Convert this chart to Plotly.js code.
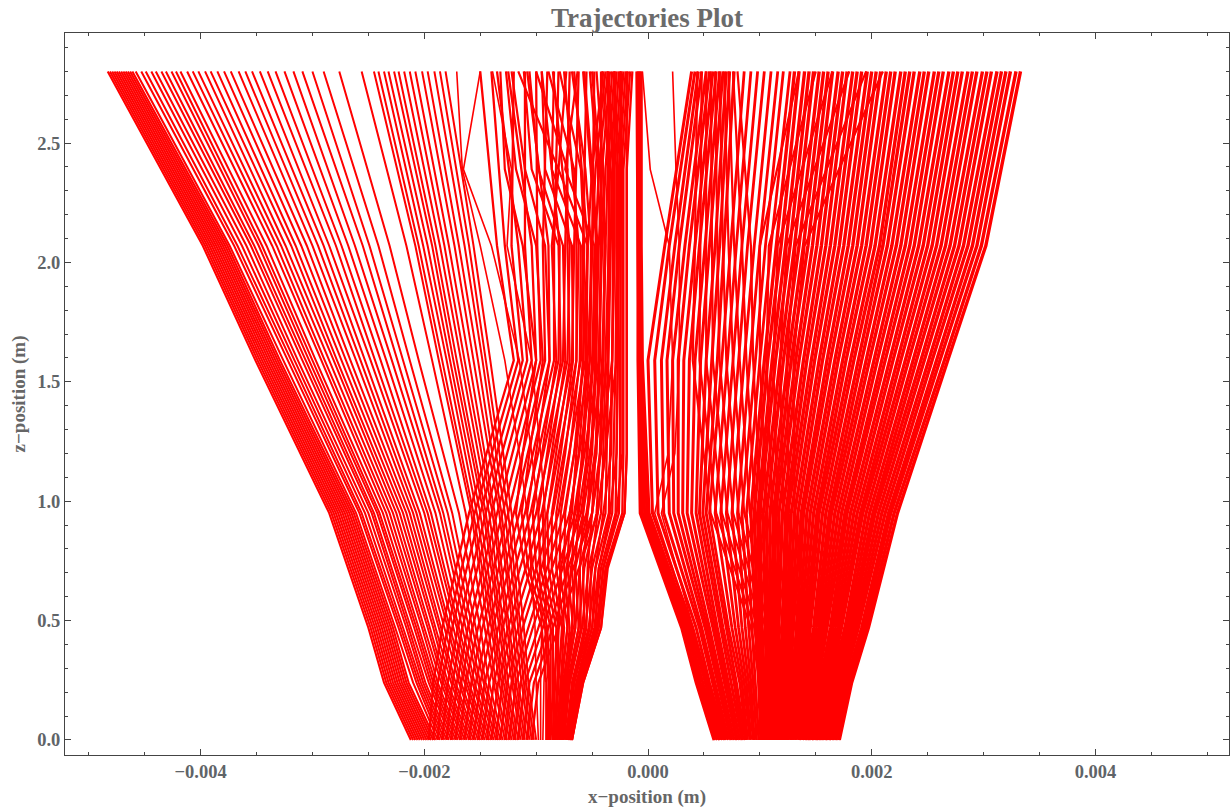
<!DOCTYPE html>
<html><head><meta charset="utf-8">
<script src="https://cdn.plot.ly/plotly-3.0.1.min.js"></script>
<style>html,body{margin:0;padding:0;background:#fff}#chart{width:1230px;height:810px}</style>
</head><body><div id="chart"></div>
<script>
// x values are stored in units of 10 micrometres (1e-5 m); z in metres
const X_UNIT = 1e-5;
const zFine = [0, 0.24, 0.47, 0.72, 0.95, 1.2, 1.59, 2.07, 2.39, 2.8];
const zCoarse = [0, 0.24, 0.47, 0.95, 1.59, 2.07, 2.8];

// left bundle, dense band along the outer edge (one array per trajectory, at zCoarse)
const leftEdgeLines = [
  [-212,-236,-250,-285,-351,-398,-483],
  [-210,-234,-248,-283,-349,-396,-481],
  [-208,-232,-246,-281,-347,-394,-479],
  [-206,-230,-244,-279,-345,-392,-477],
  [-204,-228,-242,-277,-343,-390,-475],
  [-202,-226,-240,-275,-341,-388,-473],
  [-200,-224,-238,-273,-339,-386,-471],
  [-198,-222,-236,-271,-337,-384,-469],
  [-196,-220,-234,-269,-335,-382,-467],
  [-194,-218,-232,-267,-333,-380,-465],
  [-192,-216,-230,-265,-331,-378,-463],
  [-190,-214,-228,-263,-329,-376,-461]
];
// left bundle, fanning trajectories (at zCoarse)
const leftFanLines = [
  [-188,-210,-226,-261,-326,-374,-458],
  [-186,-207,-223,-258,-322,-370,-453],
  [-184,-205,-221,-256,-319,-367,-449],
  [-182,-203,-219,-253,-316,-363,-444],
  [-180,-201,-216,-250,-313,-359,-440],
  [-178,-199,-214,-247,-309,-355,-435],
  [-176,-196,-212,-245,-306,-352,-431],
  [-174,-194,-209,-242,-303,-348,-426],
  [-172,-192,-207,-240,-300,-345,-422],
  [-170,-190,-205,-237,-297,-341,-418],
  [-168,-188,-202,-234,-292,-336,-412],
  [-166,-185,-200,-231,-289,-332,-407],
  [-164,-183,-197,-228,-285,-328,-402],
  [-162,-181,-195,-225,-281,-324,-396],
  [-160,-179,-192,-222,-278,-319,-391],
  [-158,-176,-190,-219,-274,-315,-385],
  [-156,-174,-187,-216,-270,-310,-379],
  [-154,-172,-185,-213,-266,-305,-373],
  [-152,-169,-182,-210,-261,-300,-366],
  [-150,-167,-179,-207,-257,-295,-360],
  [-148,-164,-177,-204,-253,-290,-354],
  [-146,-162,-174,-200,-248,-285,-347],
  [-144,-160,-171,-197,-244,-279,-340],
  [-142,-157,-169,-194,-239,-274,-333],
  [-140,-155,-166,-190,-234,-268,-325],
  [-138,-152,-163,-186,-229,-262,-317],
  [-136,-150,-160,-183,-224,-255,-309],
  [-134,-147,-157,-179,-219,-249,-300]
];
// left bundle, middle trajectories (at zCoarse)
const leftMidLines = [
  [-132,-145,-154,-175,-213,-241,-290],
  [-130,-142,-150,-169,-205,-231,-276],
  [-128,-138,-146,-163,-193,-216,-256],
  [-126,-136,-143,-158,-187,-208,-245],
  [-124,-133,-140,-156,-184,-205,-241],
  [-122,-131,-138,-153,-180,-201,-236],
  [-120,-129,-136,-150,-177,-197,-232],
  [-118,-127,-133,-147,-174,-193,-227],
  [-116,-125,-131,-145,-171,-190,-223],
  [-114,-122,-129,-142,-167,-186,-218],
  [-112,-120,-126,-139,-164,-182,-213],
  [-110,-118,-124,-137,-160,-178,-208],
  [-108,-116,-121,-133,-156,-173,-202],
  [-106,-113,-119,-131,-152,-169,-197],
  [-104,-111,-116,-128,-148,-164,-191],
  [-102,-109,-114,-125,-145,-160,-186],
  [-100,-107,-111,-122,-141,-156,-181]
];
// left bundle, trajectories drifting inwards across the fan (per z level of zCoarse)
const leftCrossLevels = [
  [-196,-192,-188,-184,-180,-176,-172,-168,-164,-160,-156,-152,-148,-144,-140,-136,-132,-128,-124,-120,-116,-112,-108,-104],
  [-192,-188,-184,-179,-175,-171,-167,-163,-158,-154,-150,-146,-142,-138,-134,-130,-126,-122,-118,-114,-110,-106,-102,-98],
  [-184,-179,-175,-170,-166,-161,-157,-152,-148,-143,-139,-134,-130,-125,-121,-116,-112,-107,-103,-98,-94,-89,-85,-80],
  [-160,-155,-150,-145,-140,-135,-130,-125,-120,-115,-110,-105,-100,-95,-90,-85,-80,-75,-70,-65,-60,-55,-50,-45],
  [-120,-116,-112,-108,-104,-100,-96,-92,-88,-84,-80,-76,-72,-68,-64,-60,-56,-52,-48,-44,-40,-36,-32,-28],
  [-135,-128,-122,-116,-110,-104,-99,-94,-89,-84,-79,-74,-70,-66,-62,-58,-54,-50,-46,-42,-38,-34,-30,-26],
  [-150,-140,-120,-135,-110,-125,-100,-90,-108,-80,-95,-70,-85,-62,-75,-55,-66,-48,-58,-42,-50,-36,-30,-24]
];
// left bundle, kinked trajectories (at zFine)
const leftKinkLines = [
  [-98,-100,-101,-105,-108,-115,-128,-150,-166,-171],
  [-96,-96,-95,-97,-98,-104,-115,-140,-165,-150],
  [-94,-93,-91,-92,-92,-96,-104,-126,-122,-139]
];
// left bundle, inner trajectories (one array per z level of zFine)
const leftInnerLevels = [
  [-91,-90,-89,-88,-87,-85,-84,-83,-82,-81,-80,-79,-78,-77,-76,-74,-73,-72,-71,-70,-69,-68],
  [-91,-89,-88,-87,-85,-83,-81,-80,-78,-77,-75,-74,-73,-71,-70,-67,-66,-64,-63,-61,-60,-58],
  [-95,-92,-90,-87,-85,-82,-80,-77,-75,-72,-70,-67,-65,-62,-60,-57,-55,-52,-50,-47,-45,-42],
  [-110,-107,-103,-100,-96,-93,-89,-86,-82,-79,-75,-72,-68,-65,-61,-58,-54,-51,-47,-44,-40,-37],
  [-118,-113,-108,-103,-98,-94,-90,-86,-82,-78,-74,-70,-66,-62,-58,-54,-50,-45,-40,-34,-28,-21],
  [-112,-106,-100,-95,-90,-86,-82,-78,-74,-70,-66,-62,-58,-54,-50,-46,-42,-38,-33,-28,-23,-19],
  [-100,-94,-88,-82,-78,-74,-70,-67,-64,-61,-58,-55,-52,-49,-46,-43,-40,-36,-32,-27,-23,-19],
  [-112,-100,-92,-86,-80,-76,-72,-68,-64,-60,-57,-54,-51,-48,-45,-42,-39,-35,-31,-27,-23,-19],
  [-128,-118,-110,-80,-104,-98,-72,-92,-66,-86,-60,-80,-56,-74,-50,-45,-40,-35,-31,-27,-23,-19],
  [-132,-127,-122,-116,-111,-106,-100,-95,-89,-84,-79,-73,-68,-63,-57,-52,-46,-41,-36,-30,-25,-19]
];
// central dense band (per z level of zFine)
const centerBandLevels = [
  [-85,-83,-81,-79,-77,-76,-75,-73,-72,-71,-70,-69,-68,-68],
  [-84,-81,-78,-76,-74,-72,-70,-68,-66,-64,-62,-61,-59,-58],
  [-80,-76,-72,-68,-65,-62,-59,-56,-53,-50,-48,-46,-44,-42],
  [-78,-73,-69,-65,-61,-57,-53,-50,-47,-44,-42,-40,-38,-36],
  [-68,-63,-58,-54,-50,-46,-42,-38,-35,-32,-29,-26,-23,-21],
  [-64,-59,-55,-51,-47,-43,-40,-37,-34,-31,-28,-25,-22,-19],
  [-58,-54,-50,-47,-44,-41,-38,-35,-32,-29,-27,-25,-22,-19],
  [-54,-50,-47,-44,-41,-38,-35,-33,-30,-28,-26,-24,-22,-19],
  [-50,-47,-44,-41,-38,-36,-34,-32,-30,-28,-26,-24,-22,-19],
  [-40,-38,-36,-34,-32,-30,-28,-26,-24,-22,-20,-18,-16,-14]
];
// right bundle, inner trajectories (per z level of zCoarse)
const rightInnerLevels = [
  [59,60,62,64,65,67,69,70,72,74,75,77,79,80,82,84,85,87],
  [43,45,47,49,51,53,55,58,60,62,64,66,68,70,72,74,77,79],
  [30,32,34,36,38,40,43,46,48,51,53,55,58,60,62,65,67,70],
  [-7,-5,-3,-1,1,4,9,14,19,23,27,31,35,39,43,46,49,52],
  [-9,-8,-7,-6,-5,0,6,12,17,22,27,32,37,42,47,52,57,62],
  [-9,-9,-8,-7,-6,15,19,24,28,33,37,42,46,51,55,60,64,68],
  [-10,-9,-8,-7,-6,39,42,45,48,52,55,58,61,64,67,70,73,77]
];
// right bundle, trajectories drifting inwards (per z level of zCoarse)
const rightCrossLevels = [
  [104,108,112,116,120,124,128,132,136,140,144,148,152,156,160,164],
  [100,103,107,111,114,118,122,125,129,133,136,140,144,147,151,155],
  [92,95,98,102,105,108,112,115,118,122,125,128,132,135,138,142],
  [56,61,66,71,76,81,86,91,96,101,106,111,116,121,126,131],
  [40,46,52,58,64,70,76,82,88,94,100,106,112,118,124,130],
  [42,47,52,57,62,67,72,77,84,92,100,108,116,124,132,140],
  [44,48,52,56,60,64,68,72,76,80,135,150,165,180,195,210]
];
// two isolated trajectories inside the central gap (at zFine)
const rightGapLines = [
  [66,52,38,22,6,18,22,19,2,-5],
  [68,54,40,26,12,24,28,28,25,22]
];
// right bundle, middle trajectories (per z level of zCoarse)
const rightMidLevels = [
  [88,89,91,92,94,95,97,99],
  [82,84,86,88,90,92,94,96],
  [72,75,78,81,84,87,90,93],
  [55,60,65,70,75,80,84,88],
  [66,71,76,81,86,91,96,100],
  [74,79,84,89,95,100,105,110],
  [86,92,98,104,110,116,121,127]
];
// right bundle, outer trajectories (per z level of zCoarse)
const rightOuterLevels = [
  [101,103,104,106,107,108,110,111,113,114,116,117,119,120,122,123,125,126,128,129,131,132,134,135,137,138,140,141,143,144,146,147,149,150,152,153,155,156,158,159,161,162,164,165,167,168,170,171],
  [99,101,103,104,106,108,110,111,113,115,117,118,120,122,124,125,127,129,131,133,134,136,138,140,141,143,145,147,148,150,152,154,156,157,159,161,163,164,166,168,170,171,173,175,177,178,180,182],
  [96,98,100,102,105,107,109,111,113,115,117,120,122,124,126,128,130,133,135,137,139,141,143,145,148,150,152,154,156,158,160,163,165,167,169,171,173,176,178,180,182,184,186,188,191,193,195,197],
  [92,95,98,100,103,106,109,112,114,117,120,123,125,128,131,134,137,139,142,145,148,151,153,156,159,162,164,167,170,173,176,178,181,184,187,190,192,195,198,201,203,206,209,212,215,217,220,223],
  [104,107,111,114,118,121,125,128,132,135,139,142,146,149,153,156,160,163,167,170,174,177,181,184,188,191,195,198,202,205,209,212,216,219,223,226,230,233,237,240,244,247,251,254,258,261,265,268],
  [115,119,123,127,131,135,139,143,147,151,155,159,163,167,171,175,179,183,187,191,195,199,203,207,210,214,218,222,226,230,234,238,242,246,250,254,258,262,266,270,274,278,282,286,290,294,298,302],
  [131,135,140,144,148,153,157,161,165,170,174,178,183,187,191,196,200,204,208,213,217,221,226,230,234,238,243,247,251,256,260,264,269,273,277,281,286,290,294,299,303,307,312,316,320,324,329,333]
];

function transpose(levels) { return levels[0].map((_, i) => levels.map(l => l[i])); }

const traces = [];
function addLines(zLevels, lines, width) {
  lines.forEach(xs => traces.push({
    type: 'scatter', mode: 'lines',
    x: xs.map(v => v * X_UNIT), y: zLevels,
    line: {color: '#ff0000', width: width},
    hoverinfo: 'skip', showlegend: false
  }));
}
addLines(zCoarse, leftEdgeLines, 2.1);
addLines(zCoarse, leftFanLines, 2);
addLines(zCoarse, leftMidLines, 2);
addLines(zCoarse, transpose(leftCrossLevels), 2.3);
addLines(zFine, leftKinkLines, 1.6);
addLines(zFine, transpose(leftInnerLevels), 2.2);
addLines(zFine, transpose(centerBandLevels), 2.3);
addLines(zCoarse, transpose(rightInnerLevels), 3);
addLines(zCoarse, transpose(rightCrossLevels), 2.2);
addLines(zFine, rightGapLines, 1.6);
addLines(zCoarse, transpose(rightMidLevels), 2.8);
addLines(zCoarse, transpose(rightOuterLevels), 3.4);

const frameColor = '#444';
const labelFont = {family: 'Liberation Serif', size: 18.5, color: '#5f6468', weight: 'bold'};
const titleFont = {family: 'Liberation Serif', size: 19, color: '#666', weight: 'bold'};

const layout = {
  width: 1230, height: 810,
  paper_bgcolor: '#fff', plot_bgcolor: '#fff',
  margin: {l: 65, r: 1, t: 33, b: 55},
  title: {text: 'Trajectories Plot', font: {family: 'Liberation Serif', size: 27, color: '#6b6b6b', weight: 'bold'},
          x: 0.5, xref: 'paper', y: 0.978, yref: 'container', yanchor: 'middle'},
  xaxis: {
    range: [-0.005212, 0.005194], tickmode: 'linear', tick0: 0, dtick: 0.002, tickformat: '.3f',
    ticks: 'inside', ticklen: 6, tickwidth: 1, tickcolor: frameColor,
    showline: true, linecolor: frameColor, linewidth: 1, mirror: 'allticks',
    showgrid: false, zeroline: false,
    minor: {tickmode: 'linear', tick0: 0, dtick: 0.0005, ticks: 'inside', ticklen: 3, tickcolor: frameColor, showgrid: false},
    tickfont: labelFont,
    title: {text: 'x\u2212position (m)', font: titleFont, standoff: 8}
  },
  yaxis: {
    range: [-0.063, 2.961], tickmode: 'linear', tick0: 0, dtick: 0.5, tickformat: '.1f',
    ticks: 'inside', ticklen: 6, tickwidth: 1, tickcolor: frameColor,
    showline: true, linecolor: frameColor, linewidth: 1, mirror: 'allticks',
    showgrid: false, zeroline: false,
    minor: {tickmode: 'linear', tick0: 0, dtick: 0.1, ticks: 'inside', ticklen: 3, tickcolor: frameColor, showgrid: false},
    tickfont: labelFont,
    title: {text: 'z\u2212position (m)', font: titleFont, standoff: 6}
  }
};

Plotly.newPlot('chart', traces, layout, {displayModeBar: false, staticPlot: true});
</script>
</body></html>
